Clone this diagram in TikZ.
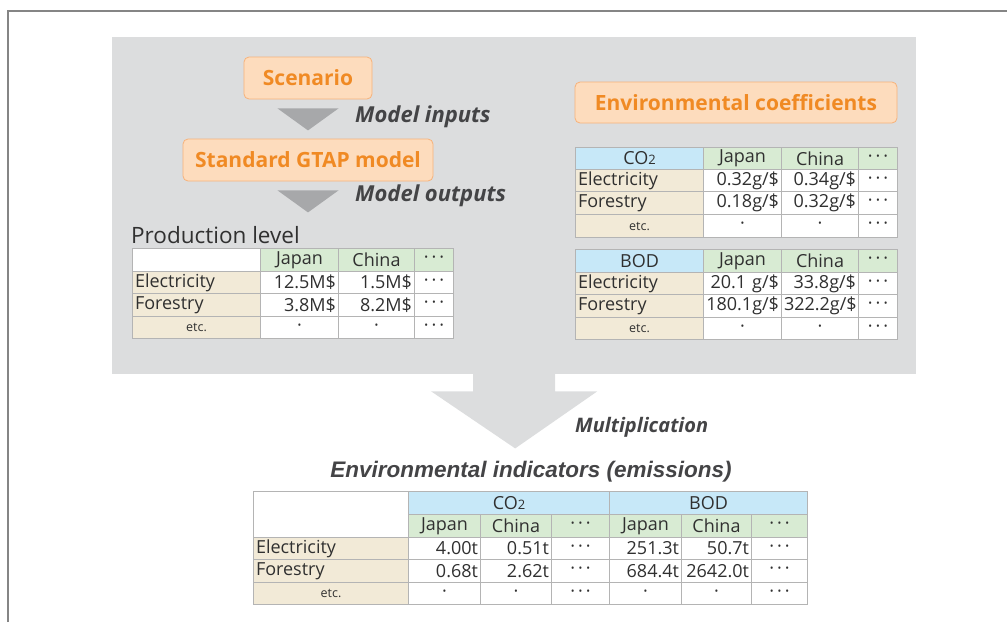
\documentclass[tikz,border=0pt]{standalone}
\usepackage{fontspec}
\setmainfont{Open Sans}
\newfontfamily\arialfont{Liberation Sans}
\usepackage{tikz}
\usetikzlibrary{calc}

\definecolor{panelgray}{HTML}{DCDDDE}
\definecolor{framegray}{HTML}{858585}
\definecolor{arrowgray}{HTML}{A7A8AA}
\definecolor{gridgray}{HTML}{B4B4B4}
\definecolor{tabtext}{HTML}{303030}
\definecolor{labeltext}{HTML}{444446}
\definecolor{orangefill}{HTML}{FDDCBD}
\definecolor{orangeline}{HTML}{F7B27A}
\definecolor{orangetext}{HTML}{F08A24}
\definecolor{hblue}{HTML}{C7E8F8}
\definecolor{hgreen}{HTML}{D8EBD3}
\definecolor{hbeige}{HTML}{F2EAD7}

\newcommand{\cellfont}{\fontsize{18}{18}\selectfont}
\newcommand{\etcfont}{\fontsize{12.5}{12.5}\selectfont}
\newcommand{\tdots}{·\,·\,·}
\newcommand{\cotwo}{CO{\fontsize{13}{13}\selectfont 2}}

% one table cell: name, x, y, width, height, fill, align, text
\newcommand{\tcell}[8]{%
  \pgfmathsetmacro{\cellw}{#4-5}%
  \node[cell,fill=#6,minimum width=#4pt,minimum height=#5pt,
        text width=\cellw pt,align=#7,anchor=north west] (#1) at (#2,#3) {#8};}

\begin{document}
\begin{tikzpicture}[x=1pt,y=-1pt,
    cell/.style={draw=gridgray,line width=1pt,inner xsep=2.5pt,inner ysep=0pt,
                 text=tabtext,font=\cellfont},
    orangebox/.style={draw=orangeline,fill=orangefill,text=orangetext,rounded corners=5pt,
                 line width=0.8pt,font=\fontsize{21}{21}\selectfont\bfseries},
    steplabel/.style={text=labeltext,font=\fontsize{22}{22}\selectfont\bfseries\itshape,
                 anchor=west,inner sep=0pt}]
  \useasboundingbox (0,0) rectangle (1007,622);
  \draw[framegray,line width=1.3pt] (8,622) -- (8,11) -- (1007,11);

  \node[fill=panelgray,minimum width=804pt,minimum height=337pt,anchor=north west,
        inner sep=0pt] (panel) at (112,37) {};

  % model chain
  \node[orangebox,minimum width=128pt,minimum height=42pt] (scen) at (308,78) {Scenario};
  \node[orangebox,minimum width=250pt,minimum height=42pt] (gtap) at (308,160) {Standard GTAP model};
  \node[orangebox,minimum width=322pt,minimum height=41pt] (coef) at (736,102.5) {Environmental coefficients};

  \fill[arrowgray] ($(scen.south)+(-30.5,9)$) -- ++(61,0) -- ($(scen.south)+(0,31)$) -- cycle;
  \fill[arrowgray] ($(gtap.south)+(-30.5,9)$) -- ++(61,0) -- ($(gtap.south)+(0,31)$) -- cycle;
  \node[steplabel] (lin)  at (355,117) {Model inputs};
  \node[steplabel] (lout) at (355,196) {Model outputs};

  % production level
  \node[text=tabtext,font=\fontsize{22.5}{22.5}\selectfont,anchor=base west,inner sep=0pt]
       (ptitle) at (131,243) {Production level};
  \tcell{p00}{132}{248}{128}{23}{white}{left}{}
  \foreach \n/\x/\w/\t in {p01/260/78/Japan,p02/338/76/China,p03/414/39/\tdots}
    {\tcell{\n}{\x}{248}{\w}{23}{hgreen}{center}{\t}}
  \tcell{p10}{132}{271}{128}{22}{hbeige}{left}{Electricity}
  \foreach \n/\x/\w/\t/\a in {p11/260/78/12.5M\$/right,p12/338/76/1.5M\$/right,p13/414/39/\tdots/center}
    {\tcell{\n}{\x}{271}{\w}{22}{white}{\a}{\t}}
  \tcell{p20}{132}{293}{128}{23}{hbeige}{left}{Forestry}
  \foreach \n/\x/\w/\t/\a in {p21/260/78/3.8M\$/right,p22/338/76/8.2M\$/right,p23/414/39/\tdots/center}
    {\tcell{\n}{\x}{293}{\w}{23}{white}{\a}{\t}}
  \tcell{p30}{132}{316}{128}{22}{hbeige}{center}{\etcfont etc.}
  \foreach \n/\x/\w/\t in {p31/260/78/·,p32/338/76/·,p33/414/39/\tdots}
    {\tcell{\n}{\x}{316}{\w}{22}{white}{center}{\t}}

  % coefficients, CO2
  \tcell{c00}{575}{147}{128}{22}{hblue}{center}{\cotwo}
  \foreach \n/\x/\w/\t in {c01/703/78/Japan,c02/781/77/China,c03/858/39/\tdots}
    {\tcell{\n}{\x}{147}{\w}{22}{hgreen}{center}{\t}}
  \tcell{c10}{575}{169}{128}{22}{hbeige}{left}{Electricity}
  \foreach \n/\x/\w/\t/\a in {c11/703/78/{0.32g/\$}/right,c12/781/77/{0.34g/\$}/right,c13/858/39/\tdots/center}
    {\tcell{\n}{\x}{169}{\w}{22}{white}{\a}{\t}}
  \tcell{c20}{575}{191}{128}{23}{hbeige}{left}{Forestry}
  \foreach \n/\x/\w/\t/\a in {c21/703/78/{0.18g/\$}/right,c22/781/77/{0.32g/\$}/right,c23/858/39/\tdots/center}
    {\tcell{\n}{\x}{191}{\w}{23}{white}{\a}{\t}}
  \tcell{c30}{575}{214}{128}{23}{hbeige}{center}{\etcfont etc.}
  \foreach \n/\x/\w/\t in {c31/703/78/·,c32/781/77/·,c33/858/39/\tdots}
    {\tcell{\n}{\x}{214}{\w}{23}{white}{center}{\t}}

  % coefficients, BOD
  \tcell{b00}{575}{249}{128}{23}{hblue}{center}{BOD}
  \foreach \n/\x/\w/\t in {b01/703/78/Japan,b02/781/77/China,b03/858/39/\tdots}
    {\tcell{\n}{\x}{249}{\w}{23}{hgreen}{center}{\t}}
  \tcell{b10}{575}{272}{128}{22}{hbeige}{left}{Electricity}
  \foreach \n/\x/\w/\t/\a in {b11/703/78/{20.1 g/\$}/right,b12/781/77/{33.8g/\$}/right,b13/858/39/\tdots/center}
    {\tcell{\n}{\x}{272}{\w}{22}{white}{\a}{\t}}
  \tcell{b20}{575}{294}{128}{23}{hbeige}{left}{Forestry}
  \foreach \n/\x/\w/\t/\a in {b21/703/78/{180.1g/\$}/right,b22/781/77/{322.2g/\$}/right,b23/858/39/\tdots/center}
    {\tcell{\n}{\x}{294}{\w}{23}{white}{\a}{\t}}
  \tcell{b30}{575}{317}{128}{22}{hbeige}{center}{\etcfont etc.}
  \foreach \n/\x/\w/\t in {b31/703/78/·,b32/781/77/·,b33/858/39/\tdots}
    {\tcell{\n}{\x}{317}{\w}{22}{white}{center}{\t}}

  % multiplication arrow
  \fill[panelgray] ($(panel.south)+(-41,-1)$) -- ++(0,18) -- ++(-42,0)
        -- ($(panel.south)+(1,74)$) -- ($(panel.south)+(83,17)$) -- ++(-42,0) -- ++(0,-18) -- cycle;
  \node[steplabel,font=\fontsize{20}{20}\selectfont\bfseries\itshape] (lmul) at (575,427) {Multiplication};

  % environmental indicators
  \node[text=labeltext,font=\fontsize{22.5}{22.5}\selectfont\arialfont\bfseries\itshape]
       (etitle) at (531,472) {Environmental indicators (emissions)};
  \tcell{e00}{253}{491}{155}{46}{white}{left}{}
  \tcell{eco}{408}{491}{201}{23}{hblue}{center}{\cotwo}
  \tcell{ebo}{609}{491}{198}{23}{hblue}{center}{BOD}
  \foreach \n/\x/\w/\t in {e01/408/72/Japan,e02/480/71/China,e03/551/58/\tdots,
                           e04/609/72/Japan,e05/681/70/China,e06/751/56/\tdots}
    {\tcell{\n}{\x}{514}{\w}{23}{hgreen}{center}{\t}}
  \tcell{e10}{253}{537}{155}{22}{hbeige}{left}{Electricity}
  \foreach \n/\x/\w/\t/\a in {e11/408/72/4.00t/right,e12/480/71/0.51t/right,e13/551/58/\tdots/center,
                              e14/609/72/251.3t/right,e15/681/70/50.7t/right,e16/751/56/\tdots/center}
    {\tcell{\n}{\x}{537}{\w}{22}{white}{\a}{\t}}
  \tcell{e20}{253}{559}{155}{23}{hbeige}{left}{Forestry}
  \foreach \n/\x/\w/\t/\a in {e21/408/72/0.68t/right,e22/480/71/2.62t/right,e23/551/58/\tdots/center,
                              e24/609/72/684.4t/right,e25/681/70/2642.0t/right,e26/751/56/\tdots/center}
    {\tcell{\n}{\x}{559}{\w}{23}{white}{\a}{\t}}
  \tcell{e30}{253}{582}{155}{22}{hbeige}{center}{\etcfont etc.}
  \foreach \n/\x/\w/\t in {e31/408/72/·,e32/480/71/·,e33/551/58/\tdots,
                           e34/609/72/·,e35/681/70/·,e36/751/56/\tdots}
    {\tcell{\n}{\x}{582}{\w}{22}{white}{center}{\t}}
\end{tikzpicture}
\end{document}
